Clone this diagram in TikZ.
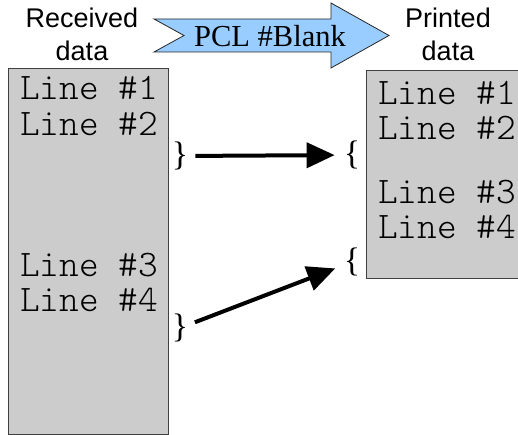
\documentclass[tikz,border=0pt]{standalone}
\usepackage{fontspec}
\setmainfont{Liberation Serif}
\setsansfont{Liberation Sans}
\setmonofont{Latin Modern Mono Light}
\usetikzlibrary{positioning,arrows.meta}

\definecolor{boxgray}{HTML}{CCCCCC}
\definecolor{pclblue}{HTML}{99CCFF}

\begin{document}
\begin{tikzpicture}[x=1pt,y=-1pt,node distance=36pt,
                data box/.style={draw=black!75,fill=boxgray,line width=1.2pt,inner sep=0pt},
                line text/.style={font=\fontsize{37.5}{37.5}\ttfamily,inner sep=0pt},
                head text/.style={font=\fontsize{27}{33}\sffamily,align=center,inner sep=0pt},
                brace/.style={font=\fontsize{34}{34}\selectfont,inner sep=0pt},
                move/.style={-{Triangle[length=28pt,width=25pt]},line width=4pt,
                  shorten <=7pt,shorten >=9pt}]

  \useasboundingbox (0,0) rectangle (518,435);

  % the two pages
  \node[data box,anchor=north west,minimum width=160pt,minimum height=366pt] (recv) at (8,68) {};
  \node[data box,anchor=north west,minimum width=170pt,minimum height=208pt] (prnt) at (366,70) {};

  % headings
  \node[head text] (recvhead) at (82,34) {Received\\data};
  \node[head text] (prnthead) at (448,34) {Printed\\data};

  % big arrow with the command
  \filldraw[fill=pclblue,draw=black!85,line width=0.8pt]
    (154,19) -- (331,19) -- (331,3) -- (389,35.5) -- (331,68) -- (331,52)
    -- (154,52) -- (184,35.5) -- cycle;
  \node[font=\fontsize{30.5}{30.5}\selectfont,inner sep=0pt] (pcl) at (270,36) {PCL \#Blank};

  % received lines
  \node[line text,anchor=west] (r1) at (20,88) {Line \#1};
  \node[line text] (r2) [below of=r1] {Line \#2};
  \node[line text,anchor=west] (r3) at (20,265) {Line \#3};
  \node[line text] (r4) [below of=r3,node distance=35pt] {Line \#4};

  % printed lines
  \node[line text,anchor=west] (p1) at (378,93) {Line \#1};
  \node[line text] (p2) [below of=p1,node distance=35pt] {Line \#2};
  \node[line text,anchor=west] (p3) at (378,192) {Line \#3};
  \node[line text] (p4) [below of=p3,node distance=35pt] {Line \#4};

  % braces
  \node[brace] (gap1) at (180,156) {\}};
  \node[brace] (gap2) at (180,328) {\}};
  \node[brace] (slot1) at (352,155) {\{};
  \node[brace] (slot2) at (352,262) {\{};

  \draw[move] (gap1) -- (slot1);
  \draw[move] (gap2) -- (slot2);
\end{tikzpicture}
\end{document}
